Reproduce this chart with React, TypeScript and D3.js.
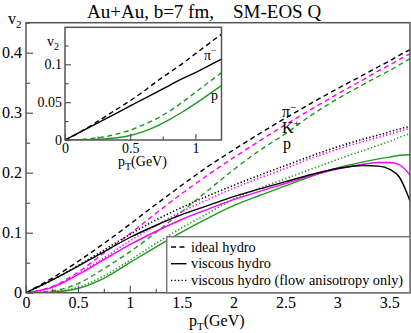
import * as d3 from 'd3';
import React, { useEffect, useRef } from 'react';

// main panel: pT grid (GeV) and v2 for each particle / model
const pT = [0, 0.25, 0.5, 0.75, 1, 1.25, 1.5, 1.75, 2, 2.25, 2.5, 2.75, 3, 3.25, 3.4, 3.5, 3.6, 3.7];

const idealPion = [0, 0.024, 0.052, 0.082, 0.114, 0.147, 0.179, 0.21, 0.238, 0.265, 0.291, 0.316, 0.34, 0.363, 0.377, 0.386, 0.396, 0.405];
const idealKaon = [0, 0.01, 0.034, 0.066, 0.098, 0.132, 0.165, 0.196, 0.225, 0.253, 0.28, 0.306, 0.331, 0.355, 0.37, 0.379, 0.389, 0.398];
const idealProton = [0, 0.003, 0.015, 0.04, 0.068, 0.1, 0.135, 0.17, 0.205, 0.237, 0.265, 0.296, 0.323, 0.347, 0.361, 0.37, 0.38, 0.39];

const viscPion = [0, 0.021, 0.044, 0.068, 0.092, 0.112, 0.13, 0.145, 0.16, 0.173, 0.185, 0.197, 0.207, 0.212, 0.211, 0.206, 0.192, 0.153];
const viscKaon = [0, 0.009, 0.03, 0.055, 0.08, 0.102, 0.122, 0.139, 0.155, 0.169, 0.182, 0.195, 0.206, 0.214, 0.217, 0.217, 0.213, 0.196];
const viscProton = [0, 0.001, 0.007, 0.024, 0.05, 0.076, 0.101, 0.124, 0.145, 0.162, 0.178, 0.194, 0.208, 0.218, 0.223, 0.226, 0.229, 0.23];

const flowPion = [0, 0.021, 0.045, 0.071, 0.097, 0.121, 0.142, 0.161, 0.179, 0.196, 0.212, 0.228, 0.243, 0.256, 0.263, 0.268, 0.273, 0.277];
const flowKaon = [0, 0.009, 0.031, 0.058, 0.086, 0.112, 0.135, 0.155, 0.174, 0.191, 0.207, 0.224, 0.239, 0.252, 0.259, 0.264, 0.269, 0.274];
const flowProton = [0, 0.002, 0.009, 0.028, 0.054, 0.082, 0.108, 0.132, 0.156, 0.174, 0.19, 0.206, 0.222, 0.237, 0.246, 0.252, 0.259, 0.265];

// inset (low pT)
const insetPT = [0, 0.1, 0.2, 0.3, 0.4, 0.5, 0.6, 0.7, 0.8, 0.9, 1.0, 1.1, 1.2];
const insetIdealPion = [0, 0.009, 0.019, 0.03, 0.041, 0.052, 0.064, 0.077, 0.089, 0.101, 0.114, 0.127, 0.14];
const insetViscPion = [0, 0.009, 0.018, 0.027, 0.036, 0.045, 0.054, 0.063, 0.072, 0.081, 0.089, 0.098, 0.107];
const insetIdealProton = [0, 0.0005, 0.002, 0.004, 0.008, 0.013, 0.02, 0.028, 0.038, 0.05, 0.063, 0.076, 0.089];
const insetViscProton = [0, 0, 0.0005, 0.0015, 0.003, 0.006, 0.011, 0.018, 0.027, 0.037, 0.048, 0.06, 0.072];

const xTicks = [0, 0.5, 1, 1.5, 2, 2.5, 3, 3.5];
const yTicks = [0, 0.1, 0.2, 0.3, 0.4];
const insetXTicks = [0, 0.5, 1];
const insetYTicks = [0, 0.05, 0.1];

const legendLabels = ['ideal hydro', 'viscous hydro', 'viscous hydro (flow anisotropy only)'];

const BLACK = '#000000', MAGENTA = '#ff00ff', GREEN = '#1f9a1f';
const DASH = '5,3.5', DOT = '1.3,2.2';

export default function App() {
  const ref = useRef<SVGSVGElement>(null);
  const width = 411, height = 333;

  useEffect(() => {
    const svg = d3.select(ref.current);
    svg.selectAll('*').remove();
    drawChart(svg);
  }, []);

  function drawChart(svg: any) {
    const font = '"Liberation Serif", "Times New Roman", serif';
    const x = d3.scaleLinear().domain([0, 3.7]).range([26, 410]);
    const y = d3.scaleLinear().domain([0, 0.45]).range([292.7, 22.7]);

    svg.append('defs').append('clipPath').attr('id', 'mainClip')
      .append('rect').attr('x', 26).attr('y', 22.7).attr('width', 384).attr('height', 270);

    // curves
    const line = (sx: any, sy: any, xs: number[]) => d3.line<number>()
      .x((d, i) => sx(xs[i]))
      .y(d => sy(d))
      .curve(d3.curveMonotoneX);

    const mainSeries = [
      { v: idealPion, c: BLACK, dash: DASH },
      { v: idealKaon, c: MAGENTA, dash: DASH },
      { v: idealProton, c: GREEN, dash: DASH },
      { v: flowPion, c: BLACK, dash: DOT },
      { v: flowKaon, c: MAGENTA, dash: DOT },
      { v: flowProton, c: GREEN, dash: DOT },
      { v: viscProton, c: GREEN, dash: null },
      { v: viscKaon, c: MAGENTA, dash: null },
      { v: viscPion, c: BLACK, dash: null },
    ];
    const g = svg.append('g').attr('clip-path', 'url(#mainClip)');
    mainSeries.forEach(s => {
      g.append('path')
        .attr('d', line(x, y, pT)(s.v))
        .attr('fill', 'none')
        .attr('stroke', s.c)
        .attr('stroke-width', s.dash === DOT ? 1.6 : 1.4)
        .attr('stroke-dasharray', s.dash);
    });

    // axes (ticks inward)
    const xAx = svg.append('g').attr('transform', 'translate(0,292.7)')
      .call(d3.axisBottom(x).tickValues(xTicks).tickSize(-7).tickPadding(4).tickFormat(d3.format('')));
    svg.append('g').attr('transform', 'translate(0,292.7)')
      .call(d3.axisBottom(x).tickValues(d3.range(0.25, 3.7, 0.5)).tickSize(-4).tickFormat(() => ''));
    const yAx = svg.append('g').attr('transform', 'translate(26,0)')
      .call(d3.axisLeft(y).tickValues(yTicks).tickSize(-7).tickPadding(4).tickFormat(d3.format('')));
    svg.append('g').attr('transform', 'translate(26,0)')
      .call(d3.axisLeft(y).tickValues([0.05, 0.15, 0.25, 0.35, 0.45]).tickSize(-4).tickFormat(() => ''));
    svg.selectAll('.domain').remove();
    svg.selectAll('.tick line').attr('stroke', '#555').attr('stroke-width', 1.2);
    xAx.selectAll('text').attr('font-family', font).attr('font-size', 16).attr('fill', '#000').attr('dy', '0.72em');
    yAx.selectAll('text').attr('font-family', font).attr('font-size', 16).attr('fill', '#000');

    // frame
    svg.append('rect').attr('x', 26).attr('y', 22.7).attr('width', 384).attr('height', 270)
      .attr('fill', 'none').attr('stroke', '#555').attr('stroke-width', 1.5);

    // title
    const title = svg.append('text').attr('y', 17.5).attr('font-family', font).attr('font-size', 19);
    title.append('tspan').attr('x', 87).text('Au+Au, b=7 fm,');
    title.append('tspan').attr('x', 233).text('SM-EOS Q');

    // axis labels
    const yl = svg.append('text').attr('x', 8).attr('y', 24).attr('font-family', font).attr('font-size', 16);
    yl.append('tspan').text('v');
    yl.append('tspan').attr('font-size', 11).attr('dy', 4).text('2');
    const xl = svg.append('text').attr('x', 189).attr('y', 326).attr('font-family', font).attr('font-size', 16);
    xl.append('tspan').text('p');
    xl.append('tspan').attr('font-size', 11).attr('dy', 4).text('T');
    xl.append('tspan').attr('dy', -4).text('(GeV)');

    // curve labels
    const lab = (tx: number, ty: number, base: string, sup: string, size: number) => {
      const t = svg.append('text').attr('x', tx).attr('y', ty).attr('font-family', font).attr('font-size', size);
      t.append('tspan').text(base);
      if (sup) t.append('tspan').attr('font-size', size * 0.7).attr('dy', -size * 0.4).text(sup);
    };
    lab(282, 117, 'π', '−', 16);
    lab(282, 133, 'K', '+', 16);
    lab(283, 149, 'p', '', 16);

    // legend
    const lg = svg.append('g');
    lg.append('rect').attr('x', 166.7).attr('y', 236.7).attr('width', 243.3).attr('height', 56)
      .attr('fill', '#fff').attr('stroke', '#777').attr('stroke-width', 1.5);
    [DASH, null, DOT].forEach((dash, i) => {
      const ly = 247 + i * 16.7;
      lg.append('line').attr('x1', 171).attr('x2', 186.5).attr('y1', ly).attr('y2', ly)
        .attr('stroke', '#000').attr('stroke-width', 1.4).attr('stroke-dasharray', dash);
      lg.append('text').attr('x', 191).attr('y', ly + 4.5).attr('font-family', font).attr('font-size', 14.3)
        .text(legendLabels[i]);
    });

    // inset
    const ix = d3.scaleLinear().domain([0, 1.2]).range([65, 221.5]);
    const iy = d3.scaleLinear().domain([0, 0.15]).range([140, 26.5]);
    svg.append('rect').attr('x', 65).attr('y', 27.3).attr('width', 156.5).attr('height', 112.7)
      .attr('fill', '#fff');
    svg.append('defs').append('clipPath').attr('id', 'insetClip')
      .append('rect').attr('x', 65).attr('y', 27.3).attr('width', 156.5).attr('height', 112.7);
    const ig = svg.append('g').attr('clip-path', 'url(#insetClip)');
    [
      { v: insetIdealPion, c: BLACK, dash: DASH },
      { v: insetIdealProton, c: GREEN, dash: DASH },
      { v: insetViscProton, c: GREEN, dash: null },
      { v: insetViscPion, c: BLACK, dash: null },
    ].forEach(s => {
      ig.append('path').attr('d', line(ix, iy, insetPT)(s.v))
        .attr('fill', 'none').attr('stroke', s.c).attr('stroke-width', 1.4).attr('stroke-dasharray', s.dash);
    });
    const ixAx = svg.append('g').attr('transform', 'translate(0,140)')
      .call(d3.axisBottom(ix).tickValues(insetXTicks).tickSize(-6).tickPadding(3).tickFormat(d3.format('')));
    svg.append('g').attr('transform', 'translate(0,140)')
      .call(d3.axisBottom(ix).tickValues([0.25, 0.75]).tickSize(-3.5).tickFormat(() => ''));
    const iyAx = svg.append('g').attr('transform', 'translate(65,0)')
      .call(d3.axisLeft(iy).tickValues(insetYTicks).tickSize(-6).tickPadding(3).tickFormat(d3.format('')));
    svg.append('g').attr('transform', 'translate(65,0)')
      .call(d3.axisLeft(iy).tickValues([0.025, 0.075, 0.125]).tickSize(-3.5).tickFormat(() => ''));
    svg.selectAll('.domain').remove();
    svg.selectAll('.tick line').attr('stroke', '#555').attr('stroke-width', 1.2);
    ixAx.selectAll('text').attr('font-family', font).attr('font-size', 14).attr('fill', '#000').attr('dy', '0.72em');
    iyAx.selectAll('text').attr('font-family', font).attr('font-size', 14).attr('fill', '#000');
    svg.append('rect').attr('x', 65).attr('y', 27.3).attr('width', 156.5).attr('height', 112.7)
      .attr('fill', 'none').attr('stroke', '#555').attr('stroke-width', 1.5);

    const iyl = svg.append('text').attr('x', 47).attr('y', 46).attr('font-family', font).attr('font-size', 14);
    iyl.append('tspan').text('v');
    iyl.append('tspan').attr('font-size', 10).attr('dy', 3.5).text('2');
    const ixl = svg.append('text').attr('x', 118).attr('y', 166).attr('font-family', font).attr('font-size', 14);
    ixl.append('tspan').text('p');
    ixl.append('tspan').attr('font-size', 10).attr('dy', 3.5).text('T');
    ixl.append('tspan').attr('dy', -3.5).text('(GeV)');
    lab(204, 60, 'π', '−', 14);
    lab(211, 100, 'p', '', 14);
  }

  return <div>
    <svg ref={ref} width={width} height={height} style={{ position: 'absolute', left: 0, top: 0 }} />
  </div>;
}
